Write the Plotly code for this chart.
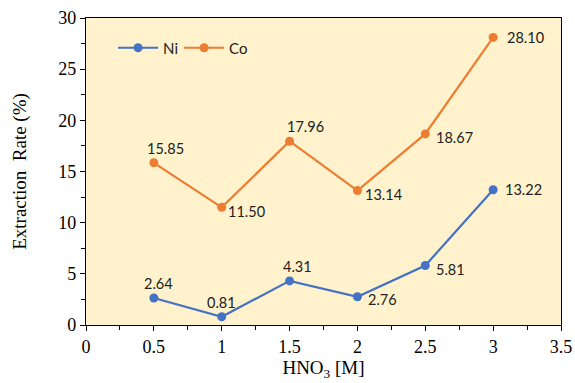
import plotly.graph_objects as go

hno3 = [0.5, 1, 1.5, 2, 2.5, 3]
ni = [2.64, 0.81, 4.31, 2.76, 5.81, 13.22]
co = [15.85, 11.50, 17.96, 13.14, 18.67, 28.10]

# label placement styling: (mode, dx, dy) per point
ni_lbl = [("top", 5, 0), ("top", 0, 0), ("top", 8, 0), ("right", 10, -3), ("right", 10, -4), ("right", 11, 0)]
co_lbl = [("top", 12, 0), ("right", 5, -4), ("top", 16, 0), ("right", 7, -4), ("right", 10, -4), ("right", 13, 0)]

BLUE = "#4472C4"
ORANGE = "#ED7D31"
SERIF = "Liberation Serif, Times New Roman, serif"
SANS = "Lato, Carlito, sans-serif"
LABEL_FONT = dict(family=SANS, size=14.5, color="#222222")

fig = go.Figure()
fig.add_trace(go.Scatter(x=hno3, y=ni, mode="lines+markers", name="Ni", legend="legend",
                         line=dict(color=BLUE, width=2.2), marker=dict(size=9, color=BLUE)))
fig.add_trace(go.Scatter(x=hno3, y=co, mode="lines+markers", name="Co", legend="legend2",
                         line=dict(color=ORANGE, width=2.2), marker=dict(size=9, color=ORANGE)))

def add_labels(xs, ys, styles):
    for x, y, (mode, dx, dy) in zip(xs, ys, styles):
        if mode == "top":
            fig.add_annotation(x=x, y=y, text=f"{y:.2f}", showarrow=False, font=LABEL_FONT,
                               xanchor="center", yanchor="bottom", xshift=dx, yshift=4 + dy)
        else:
            fig.add_annotation(x=x, y=y, text=f"{y:.2f}", showarrow=False, font=LABEL_FONT,
                               xanchor="left", yanchor="middle", xshift=dx - 1, yshift=dy)

add_labels(hno3, ni, ni_lbl)
add_labels(hno3, co, co_lbl)

axis_common = dict(showline=True, linecolor="black", linewidth=1.3, mirror=True,
                   ticks="outside", ticklen=5, tickcolor="black", showgrid=False, zeroline=False,
                   automargin=False,
                   tickfont=dict(family=SERIF, size=18, color="black"))

legend_common = dict(orientation="h", y=0.956, xanchor="left", yanchor="top",
                     bgcolor="rgba(0,0,0,0)", font=dict(family=SANS, size=15, color="#222222"),
                     itemwidth=40)

fig.update_layout(
    width=575, height=383,
    margin=dict(l=86, r=14, t=18, b=58),
    paper_bgcolor="white", plot_bgcolor="#FFF2CC",
    showlegend=True,
    legend=dict(x=0.057, **legend_common),
    legend2=dict(x=0.196, **legend_common),
    xaxis=dict(range=[0, 3.5], dtick=0.5,
               minor=dict(ticks="outside", ticklen=4, dtick=0.25, tickcolor="black"),
               title=dict(text="HNO<sub>3</sub> [M]", standoff=4,
                          font=dict(family=SERIF, size=19, color="black")),
               **axis_common),
    yaxis=dict(range=[0, 30], dtick=5,
               minor=dict(ticks="outside", ticklen=4, dtick=2.5, tickcolor="black"),
               title=dict(text="Extraction  Rate (%)", standoff=26,
                          font=dict(family=SERIF, size=19, color="black")),
               **axis_common),
)

fig.write_html("out.html", config={"displayModeBar": False},
               post_script="document.body.style.margin='0';document.body.style.overflow='hidden';")
